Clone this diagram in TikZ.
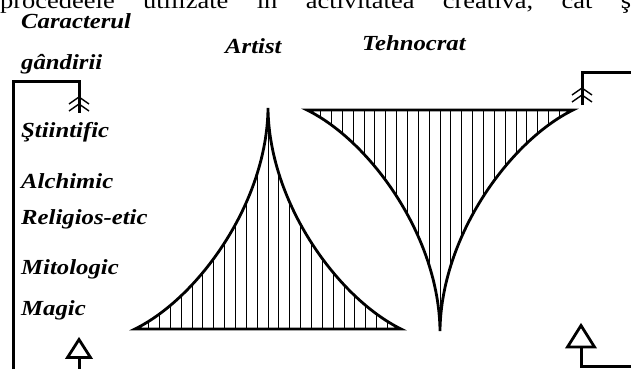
\documentclass[tikz,border=0pt]{standalone}
\usepackage{fontspec}
\setmainfont{Liberation Serif}
\usepackage{graphicx}
\usetikzlibrary{positioning, calc}
\newcommand{\wide}[1]{\scalebox{1.15}[1]{#1}}
\tikzset{
    lbl/.style={anchor=base west, inner sep=0pt, font=\bfseries\itshape\fontsize{21.5}{21.5}\selectfont},
    cuttext/.style={anchor=base west, inner sep=0pt, font=\fontsize{23}{23}\selectfont},
    frame/.style={line width=3pt, line join=miter},
    outline/.style={line width=2.8pt, line join=miter},
    hatch/.style={line width=0.9pt},
    chev/.style={line width=1.4pt},
    hollow/.style={line width=2.8pt, line join=miter, fill=white}
}

\begin{document}
\begin{tikzpicture}[x=1pt, y=-1pt]
        \useasboundingbox (0,0) rectangle (631,369);
        \clip (0,0) rectangle (631,369);

        % Text
        \node [cuttext] (topline) at (0,8.5) {\wide{\hbox to 555pt{procedeele\hfill utilizate\hfill în\hfill activitatea\hfill creativă,\hfill cât\hfill şi}}};
        \node [lbl] (caract) at (21,28.5) {\wide{Caracterul}};
        \node [lbl] (gand) at (21,70) {\wide{gândirii}};
        \node [lbl] (stiint) at (21,137) {\wide{Ştiintific}};
        \node [lbl] (alch) at (21,188.5) {\wide{Alchimic}};
        \node [lbl] (relig) at (21,224) {\wide{Religios-etic}};
        \node [lbl] (mitol) at (21,274) {\wide{Mitologic}};
        \node [lbl] (magic) at (21,315) {\wide{Magic}};
        \node [lbl] (artist) at (225,54) {\wide{Artist}};
        \node [lbl] (tehno) at (362,51) {\wide{Tehnocrat}};

        % Artist
        \coordinate (atop) at (268,108);
        \coordinate (abl) at (135,329);
        \coordinate (abr) at (401,329);
        \begin{scope}
            \clip (abl) .. controls +(63,-31) and +(-1,95) .. (atop)
                .. controls +(1,95) and +(-63,-31) .. (abr) -- cycle;
            \foreach \k in {-11,...,11}
                \draw [hatch] ([xshift=\k*10.85pt]atop) -- ++(0,230);
        \end{scope}
        \draw [outline] (abl) .. controls +(63,-31) and +(-1,95) .. (atop)
            .. controls +(1,95) and +(-63,-31) .. (abr) -- cycle;

        % Tehnocrat
        \coordinate (tbot) at (440,331);
        \coordinate (ttl) at (307,110);
        \coordinate (ttr) at (573,110);
        \begin{scope}
            \clip (ttl) .. controls +(63,31) and +(-1,-95) .. (tbot)
                .. controls +(1,-95) and +(-63,31) .. (ttr) -- cycle;
            \foreach \k in {-11,...,11}
                \draw [hatch] ([xshift=\k*10.85pt]tbot) -- ++(0,-230);
        \end{scope}
        \draw [outline] (ttl) .. controls +(63,31) and +(-1,-95) .. (tbot)
            .. controls +(1,-95) and +(-63,31) .. (ttr) -- cycle;

        % Left frame
        \coordinate (lbot) at (13,369);
        \coordinate (lcorner) at (79,81);
        \coordinate (lend) at (79,113);
        \draw [frame] (lbot) |- (lcorner) -- (lend);
        \coordinate (lchev1) at (79,97);
        \coordinate (lchev2) at (79,104);
        \draw [chev] ([shift={(-10,7)}]lchev1) -- (lchev1) -- ([shift={(10,7)}]lchev1);
        \draw [chev] ([shift={(-10,7)}]lchev2) -- (lchev2) -- ([shift={(10,7)}]lchev2);

        \coordinate (ltip) at (79,339.5);
        \coordinate (lbase) at (79,357.5);
        \coordinate (lfoot) at (79,369);
        \draw [frame] (lbase) -- (lfoot);
        \draw [hollow] (ltip) -- ([xshift=-11.5pt]lbase) -- ([xshift=11.5pt]lbase) -- cycle;

        % Right frame
        \coordinate (rend) at (582,105);
        \coordinate (redge) at (631,72);
        \draw [frame] (rend) |- (redge);
        \coordinate (rchev1) at (582,88);
        \coordinate (rchev2) at (582,95);
        \draw [chev] ([shift={(-10,7)}]rchev1) -- (rchev1) -- ([shift={(10,7)}]rchev1);
        \draw [chev] ([shift={(-10,7)}]rchev2) -- (rchev2) -- ([shift={(10,7)}]rchev2);

        \coordinate (rtip) at (581,325.5);
        \coordinate (rbase) at (581,347);
        \coordinate (rfoot) at (631,366);
        \draw [frame] (rbase) |- (rfoot);
        \draw [hollow] (rtip) -- ([xshift=-13.5pt]rbase) -- ([xshift=13.5pt]rbase) -- cycle;
    \end{tikzpicture}
\end{document}
